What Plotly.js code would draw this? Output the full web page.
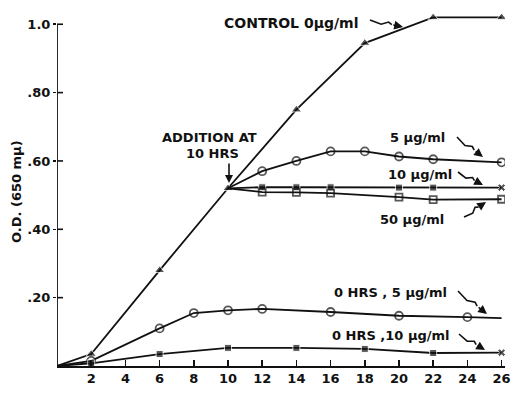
<!DOCTYPE html>
<html>
<head>
<meta charset="utf-8">
<script src="https://cdn.plot.ly/plotly-3.0.1.min.js"></script>
<style>html,body{margin:0;padding:0;background:#fff}#chart{width:514px;height:400px}</style>
</head>
<body>
<div id="chart"></div>
<script>
// ---- data ----
const controlHours = [0, 2, 6, 10, 14, 18, 22, 26];
const controlOD    = [0, 0.035, 0.28, 0.52, 0.75, 0.945, 1.02, 1.02];

const add5Hours  = [10, 12, 14, 16, 18, 20, 22, 26];
const add5OD     = [0.52, 0.57, 0.60, 0.628, 0.628, 0.613, 0.605, 0.596];

const add10Hours = [10, 12, 14, 16, 20, 22, 26];
const add10OD    = [0.52, 0.523, 0.523, 0.523, 0.522, 0.522, 0.522];

const add50Hours = [10, 12, 14, 16, 20, 22, 26];
const add50OD    = [0.52, 0.509, 0.508, 0.506, 0.494, 0.487, 0.488];

const zero5Hours  = [0, 2, 6, 8, 10, 12, 16, 20, 24, 26];
const zero5OD     = [0, 0.015, 0.11, 0.155, 0.163, 0.167, 0.158, 0.147, 0.143, 0.14];

const zero10Hours = [0, 2, 6, 10, 14, 18, 22, 26];
const zero10OD    = [0, 0.008, 0.035, 0.053, 0.053, 0.05, 0.038, 0.039];

const xTickVals = [2, 4, 6, 8, 10, 12, 14, 16, 18, 20, 22, 24, 26];
const xTickText = ['2', '4', '6', '8', '10', '12', '14', '16', '18', '20', '22', '24', '26'];
const yTickVals = [0.2, 0.4, 0.6, 0.8, 1.0];
const yTickText = ['.20', '.40', '.60', '.80', '1.0'];

// ---- styling ----
const FONT = 'DejaVu Sans, Liberation Sans, Arial, sans-serif';
const ink = '#111';
const line = {color: ink, width: 1.8};

// pixel helpers for label placement
const L = 57, R = 9, T = 14, B = 34, W = 514, H = 400;
const XR = [0, 26.2], YR = [0, 1.03];
const PW = W - L - R;
const px = p => XR[0] + (p - L) / PW * (XR[1] - XR[0]);
const py = p => YR[0] + (H - B - p) / (H - T - B) * (YR[1] - YR[0]);

const sizes = (arr, s, skipLast) => arr.map((_, i) => (i === 0 || (skipLast && i === arr.length - 1)) ? 0 : s);

const traces = [
  {x: controlHours, y: controlOD, mode: 'lines+markers', line,
   marker: {symbol: 'triangle-up', color: ink, size: sizes(controlHours, 9)}},
  {x: add5Hours, y: add5OD, mode: 'lines+markers', line,
   marker: {symbol: 'circle-open', color: ink, line: {width: 1.8, color: ink}, size: sizes(add5Hours, 8)}},
  {x: add10Hours, y: add10OD, mode: 'lines+markers', line,
   marker: {symbol: add10Hours.map((_, i) => i === add10Hours.length - 1 ? 'x' : 'square'), color: ink,
            size: sizes(add10Hours, 7)}},
  {x: add50Hours, y: add50OD, mode: 'lines+markers', line,
   marker: {symbol: 'square-open', color: ink, line: {width: 1.8, color: ink}, size: sizes(add50Hours, 7)}},
  {x: zero5Hours, y: zero5OD, mode: 'lines+markers', line,
   marker: {symbol: 'circle-open', color: ink, line: {width: 1.8, color: ink}, size: sizes(zero5Hours, 8, true)}},
  {x: zero10Hours, y: zero10OD, mode: 'lines+markers', line,
   marker: {symbol: zero10Hours.map((_, i) => i === zero10Hours.length - 1 ? 'x' : 'square'), color: ink,
            size: sizes(zero10Hours, 7)}}
];

const txt = (x, y, text, size, xanchor) => ({
  x: px(x), y: py(y), xref: 'x', yref: 'y', text, showarrow: false,
  xanchor: xanchor || 'left', yanchor: 'middle',
  font: {family: FONT, size: size || 13, color: ink, weight: 'bold'}
});

// y axis line (stops at 1.0) and the inner half of the crossing y ticks
const shapes = [{type: 'line', xref: 'x', yref: 'y', x0: 0, x1: 0, y0: 0, y1: 1.0, line: {color: ink, width: 1.8}}];
yTickVals.forEach(v => shapes.push({type: 'line', xref: 'paper', yref: 'y', x0: 0, x1: 6 / PW, y0: v, y1: v,
  line: {color: ink, width: 1.6}}));

// lightning-bolt style pointer: wavy path + arrowhead
const annotations = [];
function bolt(x0, y0, x1, y1) {
  const dx = x1 - x0, dy = y1 - y0, len = Math.hypot(dx, dy);
  const nx = -dy / len, ny = dx / len, k = 1.8;
  const P = [
    [x0, y0],
    [x0 + 0.35 * dx + nx * k, y0 + 0.35 * dy + ny * k],
    [x0 + 0.55 * dx - nx * k, y0 + 0.55 * dy - ny * k],
    [x0 + 0.66 * dx, y0 + 0.66 * dy]
  ];
  shapes.push({type: 'path', xref: 'x', yref: 'y',
    path: 'M' + P.map(p => px(p[0]) + ',' + py(p[1])).join(' L'), line: {color: ink, width: 1.6}});
  const s = P[3];
  annotations.push({x: px(x1), y: py(y1), xref: 'x', yref: 'y', text: '', showarrow: true,
    ax: s[0] - x1, ay: s[1] - y1, arrowhead: 2, arrowsize: 1.1, arrowwidth: 1.6, arrowcolor: ink});
}

annotations.push(
  txt(222, 23, 'CONTROL 0\u00b5g/ml', 14),
  txt(209, 137, 'ADDITION AT', 13, 'center'),
  txt(212, 153, '10 HRS', 13, 'center'),
  {x: px(229), y: py(183), xref: 'x', yref: 'y', text: '', showarrow: true, ax: 0, ay: -21,
   arrowhead: 2, arrowsize: 1, arrowwidth: 1.6, arrowcolor: ink},
  txt(388, 137, '5 \u00b5g/ml', 13),
  txt(386, 174, '10 \u00b5g/ml', 13),
  txt(378, 219, '50 \u00b5g/ml', 13),
  txt(332, 292, '0 HRS , 5 \u00b5g/ml', 13),
  txt(330, 335, '0 HRS ,10 \u00b5g/ml', 13),
  txt(293, 393, 'TIME (HRS)', 13, 'center'),
  {x: (17 - L) / PW, y: (H - B - 192) / (H - T - B), xref: 'paper', yref: 'paper',
   text: 'O.D. (650 m\u00b5)', textangle: -90, showarrow: false,
   xanchor: 'center', yanchor: 'middle', font: {family: FONT, size: 13, color: ink, weight: 'bold'}}
);
bolt(370, 20, 403, 27);
bolt(457, 137, 483, 157);
bolt(458, 172, 483, 185);
bolt(464, 217, 486, 202);
bolt(458, 291, 487, 314);
bolt(459, 334, 485, 350);

const layout = {
  width: W, height: H,
  margin: {l: L, r: R, t: T, b: B, pad: 0},
  paper_bgcolor: '#fff', plot_bgcolor: '#fff',
  showlegend: false,
  xaxis: {range: XR, tickvals: xTickVals, ticktext: xTickText, ticks: 'inside', ticklen: 6, tickwidth: 1.6,
          tickcolor: ink, showline: true, linecolor: ink, linewidth: 1.8, showgrid: false, zeroline: false,
          tickfont: {family: FONT, size: 13, color: ink, weight: 'bold'}},
  yaxis: {range: YR, tickvals: yTickVals, ticktext: yTickText, ticks: 'outside', ticklen: 3, tickwidth: 1.6,
          tickcolor: ink, showline: false, showgrid: false, zeroline: false,
          tickfont: {family: FONT, size: 13, color: ink, weight: 'bold'}},
  shapes,
  annotations
};

Plotly.newPlot('chart', traces, layout, {staticPlot: true, displayModeBar: false});
</script>
</body>
</html>
